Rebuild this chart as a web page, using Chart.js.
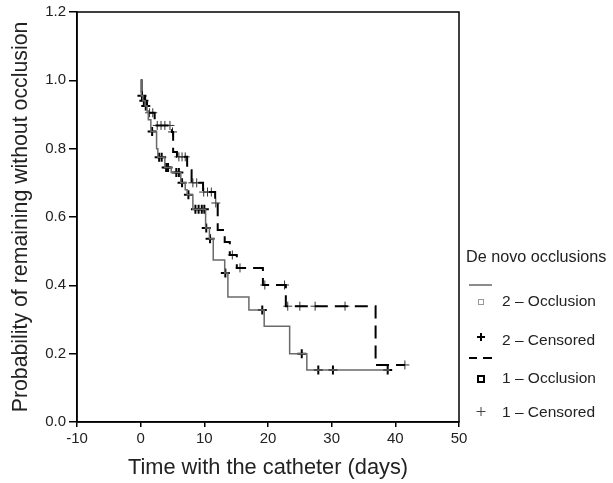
<!DOCTYPE html>
<html>
<head>
<meta charset="utf-8">
<script src="https://cdn.jsdelivr.net/npm/chart.js@4/dist/chart.umd.min.js"></script>
<style>
  html, body { margin: 0; padding: 0; background: #fff; }
</style>
</head>
<body>
<canvas id="km" width="613" height="483"></canvas>
<script>
// group 1 (dashed line) : time of each step and survival after the step
const grp1Times = [0, 0.15, 0.7, 1.0, 2.2, 4.9, 5.1, 5.7, 7.3, 8.0, 9.8, 11.7, 12.1, 13.2, 14.0, 15.1, 19.2, 22.8, 36.9, 41.5];
const grp1Surv  = [1.0, 0.963, 0.935, 0.905, 0.868, 0.849, 0.79, 0.776, 0.737, 0.70, 0.673, 0.641, 0.562, 0.527, 0.489, 0.451, 0.401, 0.339, 0.167, 0.167];
const grp1Censor = [1.4, 1.9, 2.6, 3.2, 3.8, 4.6, 5.0, 6.0, 6.5, 7.0, 8.2, 8.8, 9.9, 10.5, 11.1, 11.8, 14.4, 15.6, 19.5, 22.6, 23.1, 25.0, 27.4, 32.1, 41.5];

// group 2 (solid line)
const grp2Times = [0, 0.1, 0.35, 0.7, 1.0, 1.2, 1.6, 2.5, 2.7, 3.8, 4.8, 6.3, 7.0, 7.3, 8.2, 10.2, 10.8, 11.4, 13.2, 13.7, 17.0, 19.4, 23.4, 26.1, 39.1];
const grp2Surv  = [1.0, 0.955, 0.94, 0.925, 0.91, 0.885, 0.85, 0.80, 0.775, 0.745, 0.73, 0.70, 0.68, 0.665, 0.623, 0.568, 0.536, 0.474, 0.436, 0.366, 0.328, 0.28, 0.20, 0.152, 0.152];
const grp2Censor = [0.2, 0.5, 0.8, 1.8, 2.9, 3.3, 4.0, 4.3, 5.6, 6.0, 6.5, 7.5, 8.6, 9.1, 9.6, 10.0, 10.3, 10.9, 13.3, 19.1, 25.3, 27.9, 30.2, 38.8];

const xTicks = [-10, 0, 10, 20, 30, 40, 50];
const yTicks = [0, 0.2, 0.4, 0.6, 0.8, 1.0, 1.2];

const legendTitle = "De novo occlusions";
const legendLabels = ["2 – Occlusion", "2 – Censored", "1 – Occlusion", "1 – Censored"];

const FONT = '"Liberation Sans", Arial, sans-serif';

// value of the step curve at time t (censor marks sit on the curve)
function survAt(times, surv, t) {
  let s = surv[0];
  for (let i = 0; i < times.length; i++) {
    if (times[i] <= t) s = surv[i];
  }
  return s;
}

const steps = (times, surv) => times.map((t, i) => ({ x: t, y: surv[i] }));
const marks = (cens, times, surv) => cens.map(t => ({ x: t, y: survAt(times, surv, t) }));

// box round the plot
const boxPlugin = {
  id: 'box',
  afterDraw(chart) {
    const { ctx, chartArea: a } = chart;
    ctx.save();
    ctx.strokeStyle = '#000';
    ctx.lineWidth = 1.5;
    ctx.strokeRect(a.left, a.top, a.right - a.left, a.bottom - a.top);
    ctx.restore();
  }
};

// legend drawn by hand, it has line samples between the items
const legendPlugin = {
  id: 'kmLegend',
  afterDraw(chart) {
    const ctx = chart.ctx;
    ctx.save();
    ctx.fillStyle = '#222';
    ctx.textBaseline = 'middle';
    ctx.font = '16.2px ' + FONT;
    ctx.fillText(legendTitle, 466, 258);

    // solid sample
    ctx.strokeStyle = '#666';
    ctx.lineWidth = 1.5;
    ctx.beginPath(); ctx.moveTo(469, 285); ctx.lineTo(492, 285); ctx.stroke();
    // grey square
    ctx.strokeStyle = '#999';
    ctx.lineWidth = 1;
    ctx.strokeRect(478.5, 299.5, 5, 5);
    // bold cross
    ctx.strokeStyle = '#000';
    ctx.lineWidth = 2;
    ctx.beginPath();
    ctx.moveTo(477, 337); ctx.lineTo(485, 337);
    ctx.moveTo(481, 333); ctx.lineTo(481, 341);
    ctx.stroke();
    // dashed sample
    ctx.lineWidth = 2;
    ctx.beginPath();
    ctx.moveTo(469, 358); ctx.lineTo(477, 358);
    ctx.moveTo(483, 358); ctx.lineTo(492, 358);
    ctx.stroke();
    // black square
    ctx.strokeRect(478, 376, 6, 6);
    // thin cross
    ctx.strokeStyle = '#444';
    ctx.lineWidth = 1;
    ctx.beginPath();
    ctx.moveTo(476.5, 411.5); ctx.lineTo(485.5, 411.5);
    ctx.moveTo(481, 407); ctx.lineTo(481, 416);
    ctx.stroke();

    ctx.font = '15.5px ' + FONT;
    const ys = [302, 341, 379, 413];
    legendLabels.forEach((t, i) => ctx.fillText(t, 502, ys[i]));
    ctx.restore();
  }
};

const ctx = document.getElementById('km').getContext('2d');
new Chart(ctx, {
  type: 'line',
  data: {
    datasets: [
      {
        label: '2',
        data: steps(grp2Times, grp2Surv),
        stepped: 'before',
        borderColor: '#6a6a6a',
        borderWidth: 1.5,
        pointRadius: 0,
        fill: false
      },
      {
        label: '1',
        data: steps(grp1Times, grp1Surv),
        stepped: 'before',
        borderColor: '#000',
        borderWidth: 2,
        borderDash: [13, 7],
        pointRadius: 0,
        fill: false
      },
      {
        type: 'scatter',
        label: '2 – Censored',
        data: marks(grp2Censor, grp2Times, grp2Surv),
        pointStyle: 'cross',
        pointRadius: 4.5,
        pointBorderWidth: 2,
        borderColor: '#000',
        showLine: false
      },
      {
        type: 'scatter',
        label: '1 – Censored',
        data: marks(grp1Censor, grp1Times, grp1Surv),
        pointStyle: 'cross',
        pointRadius: 4.5,
        pointBorderWidth: 1,
        borderColor: '#333',
        showLine: false
      }
    ]
  },
  options: {
    responsive: false,
    animation: false,
    devicePixelRatio: 1,
    layout: { padding: { top: 12, right: 154, left: 0, bottom: 0 } },
    plugins: {
      legend: { display: false },
      tooltip: { enabled: false }
    },
    scales: {
      x: {
        type: 'linear',
        min: -10,
        max: 50,
        afterBuildTicks: s => { s.ticks = xTicks.map(v => ({ value: v })); },
        afterFit: s => { s.height = 61; },
        ticks: { color: '#222', font: { size: 15, family: FONT }, padding: 3 },
        grid: { drawOnChartArea: false, drawTicks: true, tickLength: 5, color: '#000', lineWidth: 1.5 },
        border: { display: true, color: '#000', width: 1.5 },
        title: {
          display: true,
          text: 'Time with the catheter (days)',
          color: '#222',
          font: { size: 21.8, family: FONT },
          padding: { top: 0, bottom: 2 }
        }
      },
      y: {
        min: 0,
        max: 1.2,
        afterBuildTicks: s => { s.ticks = yTicks.map(v => ({ value: v })); },
        afterFit: s => { s.width = 77; },
        ticks: {
          color: '#222',
          font: { size: 15, family: FONT },
          padding: 3,
          callback: v => v.toFixed(1)
        },
        grid: { drawOnChartArea: false, drawTicks: true, tickLength: 8, color: '#000', lineWidth: 1.5 },
        border: { display: true, color: '#000', width: 1.5 },
        title: {
          display: true,
          text: 'Probability of remaining without occlusion',
          color: '#222',
          font: { size: 21.3, family: FONT },
          padding: { top: 8, bottom: 0 }
        }
      }
    }
  },
  plugins: [boxPlugin, legendPlugin]
});
</script>
</body>
</html>
